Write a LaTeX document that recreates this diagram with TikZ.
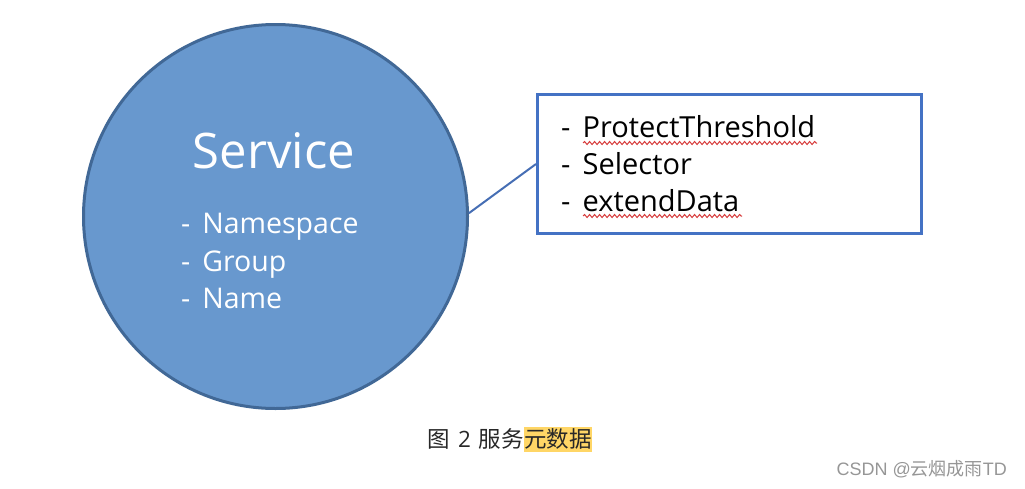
\documentclass[tikz,border=0pt]{standalone}
\usepackage{fontspec}
\setmainfont{Open Sans}
\newfontfamily\wmfont{Liberation Sans}
\newfontfamily\cjkfont{Noto Sans CJK SC}
\usetikzlibrary{decorations.pathmorphing}
\definecolor{circlefill}{RGB}{104,152,206}
\definecolor{circleborder}{RGB}{65,104,150}
\definecolor{boxborder}{RGB}{68,114,196}
\definecolor{linkcol}{RGB}{70,110,180}
\definecolor{hl}{RGB}{255,214,102}
\definecolor{captext}{RGB}{40,40,40}
\definecolor{wm}{RGB}{150,150,150}
\definecolor{squig}{RGB}{215,60,60}
\tikzset{
  inwhite/.style={text=white, inner sep=0pt},
  inblack/.style={text=black, inner sep=0pt},
  wavy/.style={draw=squig, line width=1pt, decorate, decoration={snake, amplitude=1.5pt, segment length=5pt}}
}
\newcommand{\dashsep}{-\hspace{0.42em}}
\begin{document}
\begin{tikzpicture}[x=1pt,y=-1pt]
\useasboundingbox (0,0) rectangle (1025,488);
\node[circle, draw=circleborder, fill=circlefill, line width=3pt, minimum size=384pt, inner sep=0pt] (svc) at (275.5,216.5) {};
\node[inwhite, anchor=base] (title) at (274,168) {\fontsize{49}{52}\selectfont Service};
\node[inwhite, anchor=base west] (ns) at (181,233) {\fontsize{28.5}{30}\selectfont \dashsep Namespace};
\node[inwhite, anchor=base west] (grp) at (181,271) {\fontsize{28.5}{30}\selectfont \dashsep Group};
\node[inwhite, anchor=base west] (nm) at (181,308) {\fontsize{28.5}{30}\selectfont \dashsep Name};

\node[draw=boxborder, line width=3pt, minimum width=384pt, minimum height=139pt, inner sep=0pt] (box) at (729.5,164) {};
\node[inblack, anchor=base west] (p1) at (561,137) {\fontsize{29}{30}\selectfont \dashsep ProtectThreshold};
\node[inblack, anchor=base west] (p2) at (561,174) {\fontsize{29}{30}\selectfont \dashsep Selector};
\node[inblack, anchor=base west] (p3) at (561,211) {\fontsize{29}{30}\selectfont \dashsep extendData};
\draw[wavy] (583,143) -- (817,143);
\draw[wavy] (583,216) -- (742,216);

\draw[linkcol, line width=2pt] (svc.1) -- (box.west);

\fill[hl] (524,427) rectangle (592,452);
\node[text=captext, inner sep=0pt, anchor=base east] (cap1) at (524,447) {\fontsize{22.5}{24}\selectfont{\cjkfont 图}\hspace{0.35em}2\hspace{0.35em}{\cjkfont 服务}};
\node[text=captext, inner sep=0pt, anchor=base west] (cap2) at (524,447) {\fontsize{22.5}{24}\selectfont\cjkfont 元数据};

\node[text=wm, inner sep=0pt, anchor=base east] (wmk) at (1007,475) {\fontsize{18}{20}\selectfont{\wmfont CSDN @}{\cjkfont 云烟成雨}{\wmfont TD}};
\end{tikzpicture}
\end{document}
